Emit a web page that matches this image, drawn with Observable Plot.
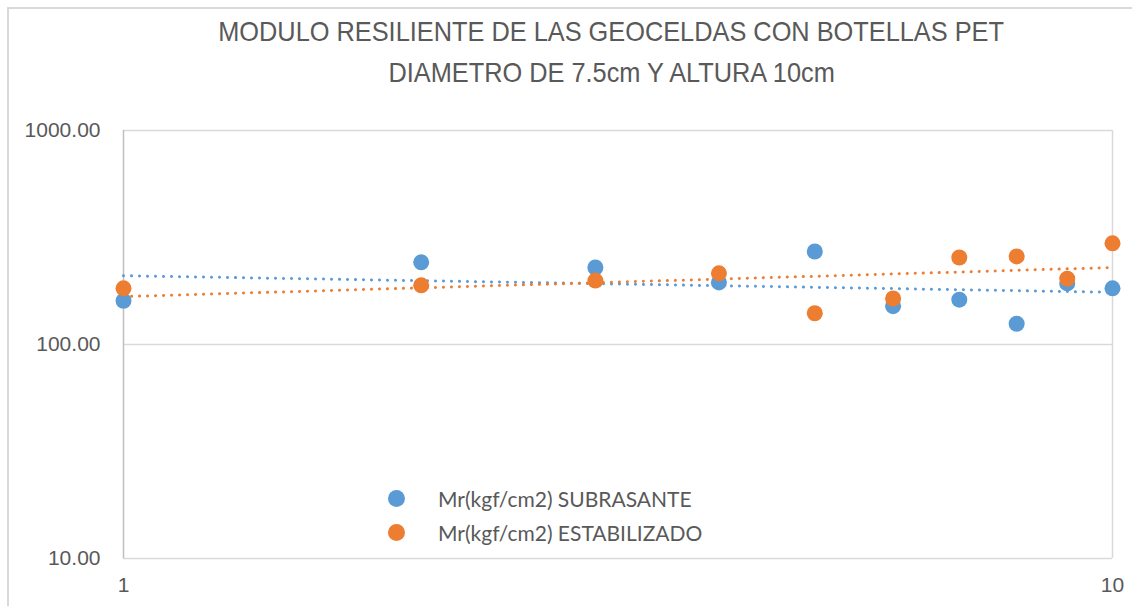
<!DOCTYPE html>
<html>
<head>
<meta charset="utf-8">
<script src="https://cdn.jsdelivr.net/npm/d3@7"></script>
<script src="https://cdn.jsdelivr.net/npm/@observablehq/plot@0.6"></script>
<style>
  html, body { margin: 0; padding: 0; background: #fff; }
  #wrap { position: relative; width: 1132px; height: 606px; overflow: hidden; }
  #border { position: absolute; left: 7px; top: 7px; width: 1200px; height: 700px; border-left: 2px solid #d9d9d9; border-top: 2px solid #d9d9d9; box-sizing: border-box; }
  #title { position: absolute; left: 0; top: 11px; width: 1223px; text-align: center; font-family: "Liberation Sans", sans-serif; font-size: 28px; line-height: 41px; color: #595959; }
  #title span { display: inline-block; transform: scaleX(0.905); transform-origin: center; }
  #legend { position: absolute; left: 388px; top: 481px; font-family: Lato, "Liberation Sans", sans-serif; font-size: 21px; color: #595959; }
  .li { display: flex; align-items: center; height: 34px; }
  .sw { width: 17px; height: 17px; border-radius: 50%; margin-right: 33px; }
  svg { position: absolute; left: 0; top: 0; }
</style>
</head>
<body>
<div id="wrap">
  <div id="border"></div>
  <div id="chart"></div>
  <div id="title"><span>MODULO RESILIENTE DE LAS GEOCELDAS CON BOTELLAS PET</span><br><span>DIAMETRO DE 7.5cm Y ALTURA 10cm</span></div>
  <div id="legend"></div>
</div>
<script>
const xValues = [1, 2, 3, 4, 5, 6, 7, 8, 9, 10];
const subrasante = [160, 242, 229, 195, 272, 151, 162, 125, 193, 183];
const estabilizado = [183, 189, 199, 215, 140, 164, 255, 258, 203, 297];
const seriesNames = ["Mr(kgf/cm2) SUBRASANTE", "Mr(kgf/cm2) ESTABILIZADO"];
const colors = ["#5B9BD5", "#ED7D31"];
const yTicks = [10, 100, 1000];
const xTicks = [1, 10];

// power trendline (least squares in log-log space)
function powerFit(xs, ys) {
  const lx = xs.map(Math.log), ly = ys.map(Math.log);
  const n = xs.length;
  const mx = d3.mean(lx), my = d3.mean(ly);
  let sxy = 0, sxx = 0;
  for (let i = 0; i < n; i++) { sxy += (lx[i]-mx)*(ly[i]-my); sxx += (lx[i]-mx)**2; }
  const b = sxy / sxx, a = my - b * mx;
  const ends = [xs[0], xs[n-1]];
  return ends.map(x => ({x, y: Math.exp(a + b * Math.log(x))}));
}

const series = [subrasante, estabilizado];
const points = series.flatMap((vals, s) => vals.map((v, i) => ({x: xValues[i], y: v, s})));
const trends = series.flatMap((vals, s) => powerFit(xValues, vals).map(d => ({...d, s})));

const chart = Plot.plot({
  width: 1132,
  height: 606,
  marginLeft: 123,
  marginRight: 20,
  marginTop: 130,
  marginBottom: 48,
  style: {background: "transparent", fontFamily: "Liberation Sans, sans-serif"},
  x: {type: "log", domain: [1, 10]},
  y: {type: "log", domain: [10, 1000]},
  marks: [
    Plot.gridY(yTicks, {stroke: "#d9d9d9", strokeOpacity: 1, strokeWidth: 1.5}),
    Plot.ruleX([10], {stroke: "#d9d9d9", strokeWidth: 1.5}),
    Plot.ruleX([1], {stroke: "#bfbfbf", strokeWidth: 1.5}),
    Plot.axisY(yTicks, {tickSize: 0, tickPadding: 23, tickFormat: d3.format(".2f"), fontSize: 21, fill: "#595959", label: null}),
    Plot.axisX(xTicks, {tickSize: 0, tickPadding: 19, tickFormat: d3.format("d"), fontSize: 21, fill: "#595959", label: null}),
    Plot.line(trends.filter(d => d.s === 0), {x: "x", y: "y", stroke: colors[0], strokeWidth: 3, strokeDasharray: "0.1 7.9", strokeLinecap: "round"}),
    Plot.line(trends.filter(d => d.s === 1), {x: "x", y: "y", stroke: colors[1], strokeWidth: 3, strokeDasharray: "0.1 7.9", strokeLinecap: "round"}),
    Plot.dot(points.filter(d => d.s === 0), {x: "x", y: "y", r: 8, fill: colors[0], stroke: "none"}),
    Plot.dot(points.filter(d => d.s === 1), {x: "x", y: "y", r: 8, fill: colors[1], stroke: "none"})
  ]
});
document.getElementById("chart").appendChild(chart);

const legend = document.getElementById("legend");
seriesNames.forEach((name, i) => {
  const row = document.createElement("div");
  row.className = "li";
  const sw = document.createElement("span");
  sw.className = "sw";
  sw.style.background = colors[i];
  const t = document.createElement("span");
  t.textContent = name;
  row.appendChild(sw); row.appendChild(t);
  legend.appendChild(row);
});
</script>
</body>
</html>
